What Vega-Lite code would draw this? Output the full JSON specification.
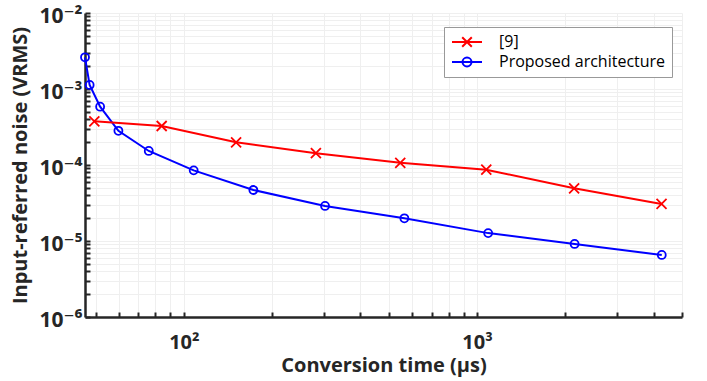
{
  "$schema": "https://vega.github.io/schema/vega-lite/v6.json",
  "width": 597,
  "height": 304,
  "autosize": "none",
  "padding": {"left": 85, "top": 13, "right": 25, "bottom": 64},
  "background": "white",
  "config": {
    "view": {"stroke": null},
    "font": "Open Sans",
    "legend": {
      "orient": "none", "legendX": 359, "legendY": 14,
      "strokeColor": "#999999", "fillColor": "white", "padding": 6,
      "labelFont": "Open Sans", "labelFontSize": 16, "labelColor": "#000000", "labelLimit": 400,
      "symbolSize": 256, "symbolOffset": 8, "labelOffset": 23, "rowPadding": 2,
      "symbolStrokeWidth": 2, "symbolFillColor": "transparent"
    }
  },
  "data": {"values": [
    {"series": "Proposed architecture", "x": 46, "y": 2.61e-3},
    {"series": "Proposed architecture", "x": 47.7, "y": 1.13e-3},
    {"series": "Proposed architecture", "x": 51.8, "y": 5.85e-4},
    {"series": "Proposed architecture", "x": 59.8, "y": 2.82e-4},
    {"series": "Proposed architecture", "x": 75.9, "y": 1.53e-4},
    {"series": "Proposed architecture", "x": 108, "y": 8.5e-5},
    {"series": "Proposed architecture", "x": 172.6, "y": 4.69e-5},
    {"series": "Proposed architecture", "x": 303, "y": 2.89e-5},
    {"series": "Proposed architecture", "x": 565, "y": 1.99e-5},
    {"series": "Proposed architecture", "x": 1091, "y": 1.27e-5},
    {"series": "Proposed architecture", "x": 2151, "y": 9.14e-6},
    {"series": "Proposed architecture", "x": 4265, "y": 6.55e-6},
    {"series": "[9]", "x": 49.5, "y": 3.76e-4},
    {"series": "[9]", "x": 84, "y": 3.26e-4},
    {"series": "[9]", "x": 150.7, "y": 1.99e-4},
    {"series": "[9]", "x": 282, "y": 1.43e-4},
    {"series": "[9]", "x": 547, "y": 1.07e-4},
    {"series": "[9]", "x": 1075, "y": 8.67e-5},
    {"series": "[9]", "x": 2143, "y": 4.93e-5},
    {"series": "[9]", "x": 4258, "y": 3.07e-5}
  ]},
  "encoding": {
    "x": {
      "field": "x", "type": "quantitative",
      "scale": {"type": "log", "domain": [46, 5000], "nice": false},
      "axis": {
        "values": [50, 60, 70, 80, 90, 100, 200, 300, 400, 500, 600, 700, 800, 900, 1000, 2000, 3000, 4000, 5000],
        "labelExpr": "datum.value == 100 ? '10²' : datum.value == 1000 ? '10³' : ''",
        "labelFont": "Open Sans, DejaVu Sans",
        "labelFontSize": 20, "labelFontWeight": "bold", "labelColor": "#262626",
        "labelPadding": 20, "labelFlush": false, "labelOverlap": false,
        "tickSize": -5, "tickWidth": 2, "tickColor": "#262626",
        "domainColor": "#262626", "domainWidth": 2.5,
        "grid": true, "gridColor": "#efefef", "gridWidth": 1,
        "title": "Conversion time (µs)",
        "titleFont": "Open Sans", "titleFontSize": 20, "titleFontWeight": "bold", "titleColor": "#262626",
        "titlePadding": 3
      }
    },
    "y": {
      "field": "y", "type": "quantitative",
      "scale": {"type": "log", "domain": [1e-6, 1e-2], "nice": false},
      "axis": {
        "values": [1e-6, 2e-6, 3e-6, 4e-6, 5e-6, 6e-6, 7e-6, 8e-6, 9e-6, 1e-5, 2e-5, 3e-5, 4e-5, 5e-5, 6e-5, 7e-5, 8e-5, 9e-5, 1e-4, 2e-4, 3e-4, 4e-4, 5e-4, 6e-4, 7e-4, 8e-4, 9e-4, 1e-3, 2e-3, 3e-3, 4e-3, 5e-3, 6e-3, 7e-3, 8e-3, 9e-3, 1e-2],
        "labelExpr": "abs(datum.value/1e-6-1)<1e-6 ? '10⁻⁶' : abs(datum.value/1e-5-1)<1e-6 ? '10⁻⁵' : abs(datum.value/1e-4-1)<1e-6 ? '10⁻⁴' : abs(datum.value/1e-3-1)<1e-6 ? '10⁻³' : abs(datum.value/1e-2-1)<1e-6 ? '10⁻²' : ''",
        "labelFont": "Open Sans, DejaVu Sans",
        "labelFontSize": 21, "labelFontWeight": "bold", "labelColor": "#262626",
        "labelPadding": 8, "labelOffset": 3, "labelFlush": false, "labelOverlap": false,
        "tickSize": -5, "tickWidth": 2, "tickColor": "#262626",
        "domainColor": "#262626", "domainWidth": 2.5,
        "grid": true, "gridColor": "#efefef", "gridWidth": 1,
        "title": "Input-referred noise (VRMS)",
        "titleFont": "Open Sans", "titleFontSize": 20, "titleFontWeight": "bold", "titleColor": "#262626",
        "titlePadding": 8
      }
    },
    "color": {
      "field": "series", "type": "nominal",
      "scale": {"domain": ["[9]", "Proposed architecture"], "range": ["#ff0000", "#0000ff"]},
      "legend": {"title": null}
    }
  },
  "layer": [
    {"mark": {"type": "line", "strokeWidth": 2, "clip": false}},
    {
      "transform": [{"filter": "datum.series === '[9]'"}],
      "mark": {"type": "point", "filled": false, "strokeWidth": 1.8, "size": 100, "opacity": 1, "shape": "M-1,-1L1,1M-1,1L1,-1"}
    },
    {
      "transform": [{"filter": "datum.series === 'Proposed architecture'"}],
      "mark": {"type": "point", "filled": false, "strokeWidth": 1.8, "size": 100, "opacity": 1, "shape": "M-0.8,0A0.8,0.8 0 1,0 0.8,0A0.8,0.8 0 1,0 -0.8,0"}
    },
    {
      "transform": [{"filter": "datum.x < 0"}],
      "mark": {"type": "point", "filled": false, "strokeWidth": 2, "opacity": 1},
      "encoding": {
        "shape": {
          "field": "series", "type": "nominal",
          "scale": {"domain": ["[9]", "Proposed architecture"], "range": ["M-1.875,0H1.875M-0.6,-0.6L0.6,0.6M-0.6,0.6L0.6,-0.6", "M-1.875,0H1.875M-0.56,0A0.56,0.56 0 1,0 0.56,0A0.56,0.56 0 1,0 -0.56,0"]},
          "legend": {"title": null}
        }
      }
    }
  ]
}
